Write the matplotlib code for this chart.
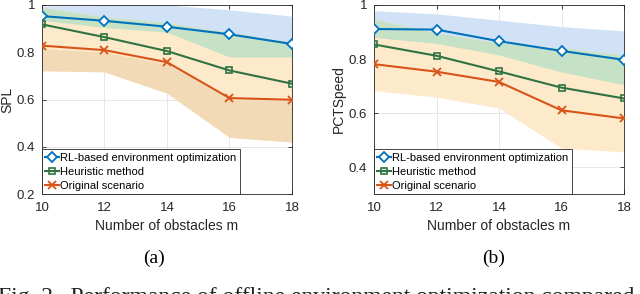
import numpy as np
import matplotlib
matplotlib.use("Agg")
import matplotlib.pyplot as plt

plt.rcParams['font.family'] = ['Liberation Sans', 'DejaVu Sans']

m = [10, 12, 14, 16, 18]

# (a) SPL
spl_rl = [0.953, 0.933, 0.908, 0.876, 0.835]
spl_heur = [0.918, 0.864, 0.805, 0.723, 0.667]
spl_orig = [0.828, 0.809, 0.758, 0.606, 0.599]
spl_rl_hi = [0.996, 0.998, 1.0, 0.98, 0.953]
spl_rl_lo = [0.935, 0.905, 0.885, 0.78, 0.78]
spl_heur_hi = [0.99, 0.95, 0.925, 0.885, 0.843]
spl_heur_lo = [0.722, 0.717, 0.627, 0.44, 0.42]
spl_orig_hi = [0.815, 0.8, 0.75, 0.6, 0.595]
spl_orig_lo = [0.722, 0.717, 0.627, 0.44, 0.42]

# (b) PCTSpeed
pct_rl = [0.911, 0.909, 0.866, 0.830, 0.797]
pct_heur = [0.854, 0.812, 0.754, 0.694, 0.654]
pct_orig = [0.781, 0.753, 0.715, 0.610, 0.580]
pct_rl_hi = [0.979, 0.967, 0.944, 0.92, 0.904]
pct_rl_lo = [0.88, 0.858, 0.815, 0.752, 0.705]
pct_heur_hi = [0.948, 0.896, 0.86, 0.84, 0.815]
pct_heur_lo = [0.683, 0.659, 0.618, 0.47, 0.456]

labels = ['RL-based environment optimization', 'Heuristic method', 'Original scenario']
c_rl, c_heur, c_orig = '#0072BD', '#2F7343', '#D95319'
band_blue, band_green, band_peach, band_tan = '#d2e2f6', '#c6e2c6', '#fdeacb', '#f2dab6'


def draw(ax, rl, heur, orig, rl_hi, rl_lo, h_hi, h_lo, o_hi=None, o_lo=None):
    x = np.array(m)
    ax.fill_between(x, rl_lo, rl_hi, color=band_blue, lw=0, zorder=1)
    ax.fill_between(x, h_lo, h_hi, color=band_peach, lw=0, zorder=1.1)
    lo = np.maximum(rl_lo, h_lo)
    hi = np.minimum(rl_hi, h_hi)
    ax.fill_between(x, lo, hi, where=hi > lo, interpolate=True,
                    color=band_green, lw=0, zorder=1.2)
    if o_hi is not None:
        ax.fill_between(x, o_lo, o_hi, color=band_tan, lw=0, zorder=1.3)
    ax.plot(x, rl, '-D', color=c_rl, mfc='white', ms=5.5, mew=1.3, lw=1.5,
            label=labels[0], zorder=3)
    ax.plot(x, heur, '-s', color=c_heur, mfc='none', ms=5, mew=1.2, lw=1.5,
            label=labels[1], zorder=3)
    ax.plot(x, orig, '-x', color=c_orig, ms=5.5, mew=1.3, lw=1.5,
            label=labels[2], zorder=3)
    ax.set_xlim(10, 18)
    ax.set_xticks(m)
    ax.set_xlabel('Number of obstacles m', fontsize=10, color='#262626', labelpad=3)
    ax.grid(True, color='#e3e3e3', lw=0.6)
    ax.set_axisbelow(True)
    ax.tick_params(direction='in', top=True, right=True, labelsize=9.5,
                   colors='#262626', length=3, width=0.6)
    ax.tick_params(axis='x', pad=6)
    ax.tick_params(axis='y', pad=5)
    for s in ax.spines.values():
        s.set_color('#262626')
        s.set_linewidth(0.6)
    leg = ax.legend(loc='lower left', bbox_to_anchor=(0, 0), borderaxespad=0,
                    fontsize=8.0, frameon=True, fancybox=False, framealpha=1,
                    edgecolor='#262626', handlelength=1.2, handletextpad=0.15,
                    labelspacing=0.36, borderpad=0.3)
    leg.get_frame().set_linewidth(0.6)
    leg.set_zorder(5)


fig = plt.figure(figsize=(6.4, 2.94), dpi=100)
ax1 = fig.add_axes([0.0656, 0.34, 0.3906, 0.643])
ax2 = fig.add_axes([0.5844, 0.34, 0.3906, 0.643])

draw(ax1, spl_rl, spl_heur, spl_orig, spl_rl_hi, spl_rl_lo,
     spl_heur_hi, spl_heur_lo, spl_orig_hi, spl_orig_lo)
ax1.set_ylim(0.2, 1)
ax1.set_yticks([0.2, 0.4, 0.6, 0.8, 1])
ax1.set_yticklabels(['0.2', '0.4', '0.6', '0.8', '1'])
ax1.set_ylabel('SPL', fontsize=10, color='#262626', labelpad=2)

draw(ax2, pct_rl, pct_heur, pct_orig, pct_rl_hi, pct_rl_lo,
     pct_heur_hi, pct_heur_lo)
ax2.set_ylim(0.3, 1)
ax2.set_yticks([0.4, 0.6, 0.8, 1])
ax2.set_yticklabels(['0.4', '0.6', '0.8', '1'])
ax2.set_ylabel('PCTSpeed', fontsize=10, color='#262626', labelpad=2)

serif = ['Liberation Serif', 'DejaVu Serif']
fig.text(154 / 640, 1 - 258 / 294, '(a)', ha='center', va='center',
         fontsize=14, family=serif)
fig.text(494 / 640, 1 - 258 / 294, '(b)', ha='center', va='center',
         fontsize=14, family=serif)
# caption line, only its top is inside the picture
fig.text(-0.003, 1 - 303 / 294,
         'Fig. 2.  Performance of offline environment optimization compared',
         ha='left', va='baseline', fontsize=17, family=serif, color='#222222')

fig.savefig('out.png', dpi=100)
